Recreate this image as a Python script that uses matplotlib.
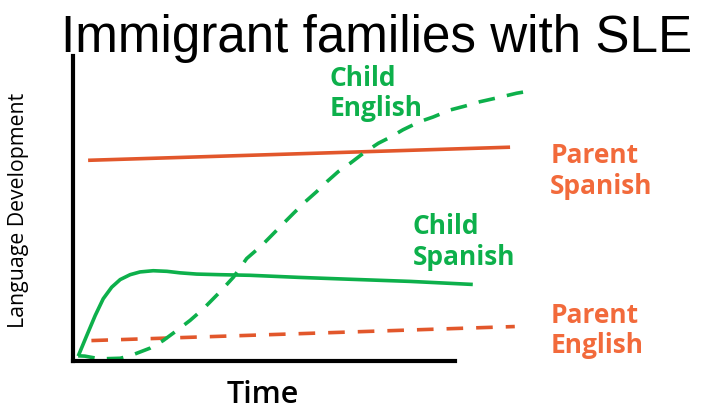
import matplotlib
matplotlib.use("Agg")
import matplotlib.pyplot as plt

# ---- data (time 0-100, development 0-100) ----
parent_spanish_x = [3.2, 92.6]
parent_spanish_y = [65.8, 70.1]

parent_english_x = [3.9, 93.6]
parent_english_y = [6.7, 11.3]

child_spanish_x = [1.1, 2.9, 4.7, 6.4, 8.2, 10.0, 12.1, 14.2, 17.0, 19.9, 22.7, 26.2,
                   31.1, 37.5, 48.1, 58.7, 71.4, 84.7]
child_spanish_y = [1.6, 8.3, 14.9, 20.4, 24.2, 26.7, 28.3, 29.2, 29.6, 29.4, 28.9, 28.5,
                   28.3, 28.1, 27.4, 26.8, 26.1, 25.1]

child_english_x = [1.1, 2.5, 5.7, 10.0, 12.1, 16.3, 19.1, 22.0, 24.8, 27.6, 31.1, 34.0,
                   36.8, 40.0, 44.2, 46.7, 49.2, 51.6, 53.8, 56.2, 58.7, 61.5, 64.7,
                   67.5, 69.9, 73.5, 76.3, 79.9, 83.1, 86.2, 90.5, 94.0, 97.4]
child_english_y = [1.7, 1.6, 0.7, 0.9, 1.7, 4.2, 6.7, 10.0, 13.3, 17.1, 22.6, 27.5,
                   33.6, 37.9, 44.5, 48.4, 52.2, 55.5, 58.8, 62.1, 64.8, 68.1, 71.4,
                   73.6, 75.8, 78.5, 80.0, 82.3, 83.6, 85.0, 86.5, 87.8, 88.7]

labels = ["Child\nEnglish", "Parent\nSpanish", "Child\nSpanish", "Parent\nEnglish"]
label_x = [54.4, 101.1, 72.0, 101.1]
label_y = [97.4, 72.0, 48.7, 19.7]

title = "Immigrant families with SLE"
xlabel = "Time"
ylabel = "Language Development"

GREEN = "#0DB04B"
ORANGE = "#E2572B"
ORANGE_TXT = "#F26A3B"
label_colors = [GREEN, ORANGE_TXT, GREEN, ORANGE_TXT]

W, H = 707, 410
fig = plt.figure(figsize=(W / 100, H / 100), dpi=100)
ax = fig.add_axes([73 / W, (H - 362) / H, 472 / W, 305 / H])
ax.set_xlim(0, 100)
ax.set_ylim(0, 100)
ax.set_xticks([])
ax.set_yticks([])
for s in ["top", "right"]:
    ax.spines[s].set_visible(False)
for s in ["left", "bottom"]:
    ax.spines[s].set_linewidth(3)
    ax.spines[s].set_color("black")
    ax.spines[s].set_capstyle("projecting")
ax.spines["bottom"].set_bounds(0, 80.9)
ax.patch.set_alpha(0)

lw = 2.6
ax.plot(parent_spanish_x, parent_spanish_y, color=ORANGE, lw=lw, solid_capstyle="butt", clip_on=False)
ax.plot(parent_english_x, parent_english_y, color=ORANGE, lw=lw, linestyle=(0, (4.6, 3.6)),
        dash_capstyle="butt", clip_on=False)
ax.plot(child_spanish_x, child_spanish_y, color=GREEN, lw=lw, solid_capstyle="butt",
        solid_joinstyle="round", clip_on=False)
ax.plot(child_english_x, child_english_y, color=GREEN, lw=lw, linestyle=(0, (4.6, 3.4)),
        dash_capstyle="butt", dash_joinstyle="round", clip_on=False)

for t, x, y, c in zip(labels, label_x, label_y, label_colors):
    ax.text(x, y, t, color=c, fontsize=19, fontweight="bold", family="Open Sans",
            ha="left", va="top", linespacing=1.15)

fig.text(377 / W, 1 - 52 / H, title, fontsize=36.8, family="Liberation Sans",
         ha="center", va="baseline", color="black")
fig.text(263 / W, 1 - 403 / H, xlabel, fontsize=22, family="Open Sans", fontweight="semibold",
         ha="center", va="baseline", color="black")
fig.text(19 / W, 1 - 210 / H, ylabel, fontsize=15.3, family="Open Sans", rotation=90,
         ha="center", va="center", color="black")

fig.savefig("out.png", dpi=100)
